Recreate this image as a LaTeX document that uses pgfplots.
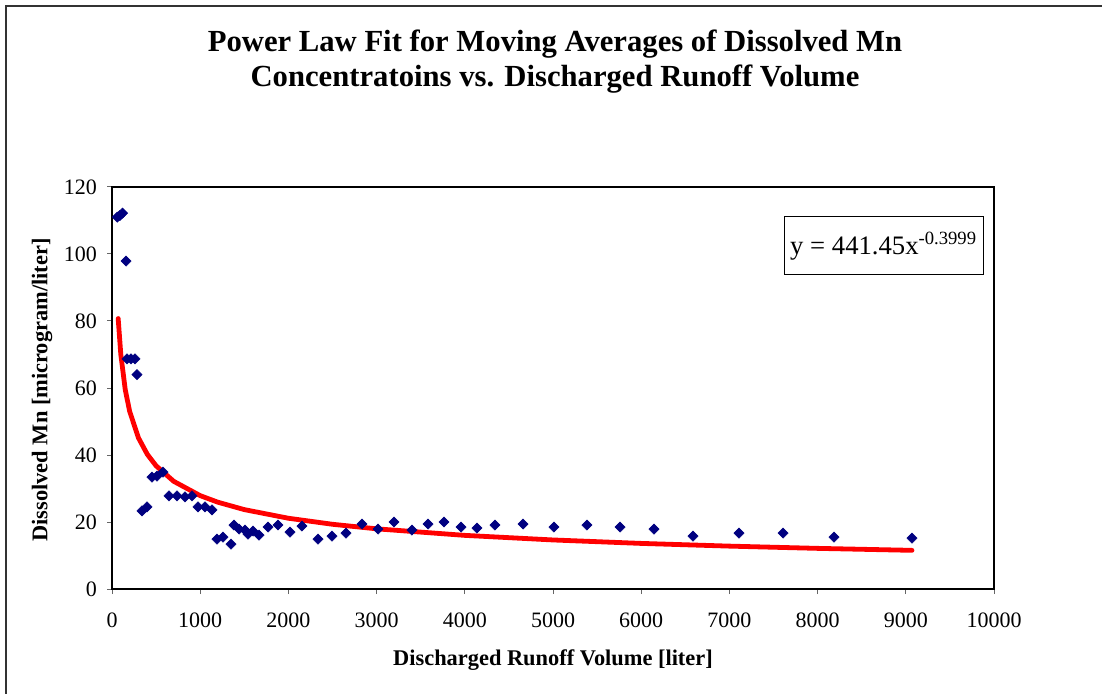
\documentclass[border=0pt]{standalone}
\usepackage{fontspec}
\setmainfont{Liberation Serif}
\usepackage{pgfplots}
\pgfplotsset{compat=1.18}
\definecolor{navy}{RGB}{0,0,128}
\begin{document}
\begin{tikzpicture}[x=0.75pt,y=0.75pt]
\useasboundingbox (0,0) rectangle (1102,693);
\draw[line width=1.5pt, black!80] (6,-20) -- (6,687) -- (1120,687);
\node[anchor=base, font=\bfseries\fontsize{23}{27}\selectfont] at (555,641) {Power Law Fit for Moving Averages of Dissolved Mn};
\node[anchor=base, font=\bfseries\fontsize{23}{27}\selectfont] at (555,606) {Concentratoins vs. Discharged Runoff Volume};
\node[anchor=base, font=\bfseries\fontsize{16.8}{20}\selectfont] at (553,28) {Discharged Runoff Volume [liter]};
\node[rotate=90, font=\bfseries\fontsize{16.8}{20}\selectfont] at (42,303) {Dissolved Mn [microgram/liter]};
\begin{axis}[
  at={(84pt,78pt)}, anchor=south west,
  width=661.5pt, height=301.5pt, scale only axis,
  xmin=0, xmax=10000, ymin=0, ymax=120,
  xtick={0,1000,...,10000}, ytick={0,20,...,120},
  scaled x ticks=false,
  /pgf/number format/assume math mode=true,
  ticklabel style={font=\fontsize{16.5}{19}\selectfont},
  xticklabel style={/pgf/number format/set thousands separator={}, yshift=-10.5pt},
  yticklabel style={xshift=-4pt},
  tick align=outside, major tick length=3.75pt,
  xtick pos=bottom, ytick pos=left,
  tick style={black!60, line width=0.75pt},
  axis line style={line width=1.2pt, black},
  clip=false,
]
\addplot[red, line width=3.6pt, line join=round, line cap=round] coordinates {
(70,80.74) (100,70.00) (150,59.52) (200,53.05) (300,45.11) (400,40.21) (500,36.77)
(700,32.14) (1000,27.87) (1200,25.91) (1500,23.70) (2000,21.12) (2500,19.32)
(3000,17.96) (4000,16.01) (5000,14.64) (6000,13.61) (7000,12.80) (8000,12.13) (9070,11.54)
};
\addplot[only marks, mark=square*, mark size=2.7pt, mark options={rotate=45, navy, fill=navy}] coordinates {
(60,111.0) (90,111.5) (120,112.2) (159,97.9)
(170,68.7) (215,68.7) (260,68.7) (283,64.0)
(340,23.3) (397,24.5)
(453,33.4) (510,33.7) (578,34.9)
(646,27.8) (737,27.8) (828,27.5) (907,27.8)
(975,24.5) (1054,24.5) (1134,23.6)
(1190,14.9) (1258,15.5) (1349,13.4)
(1383,19.1) (1440,17.9) (1508,17.6) (1542,16.4) (1599,17.3) (1667,16.1)
(1769,18.5) (1882,19.1) (2018,17.0) (2154,18.8) (2336,14.9) (2494,15.8)
(2653,16.7) (2834,19.4) (3016,17.9) (3197,20.0) (3401,17.6) (3583,19.4)
(3764,20.0) (3957,18.5) (4138,18.2) (4342,19.1) (4660,19.4) (5011,18.5)
(5385,19.1) (5760,18.5) (6145,17.9) (6587,15.8) (7109,16.7) (7608,16.7)
(8186,15.5) (9070,15.2)
};
\end{axis}
\node[draw, line width=0.75pt, minimum width=149.25pt, minimum height=43.5pt, font=\fontsize{20}{24}\selectfont] at (883.5,447) {y = 441.45x\textsuperscript{-0.3999}};
\end{tikzpicture}
\end{document}
